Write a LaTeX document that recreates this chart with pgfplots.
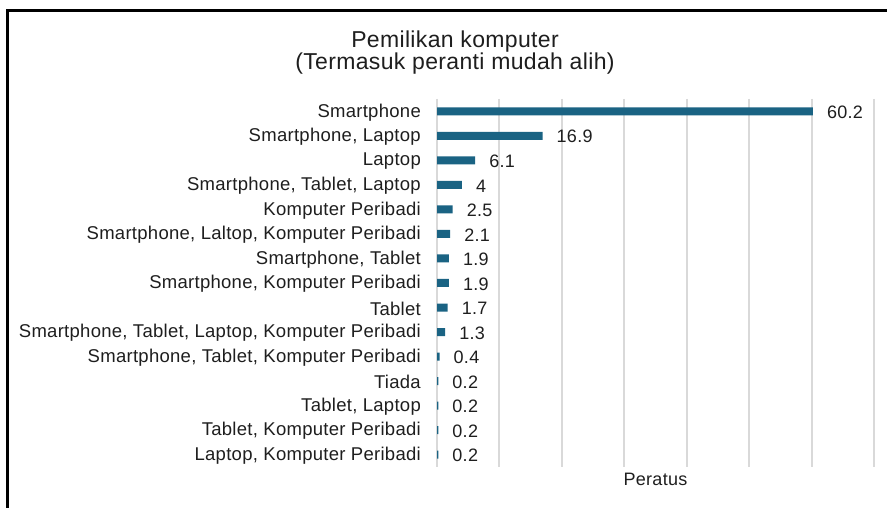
\documentclass[border=0pt]{standalone}
\usepackage{fontspec}
\setmainfont{Liberation Sans}[LetterSpace=1.5]
\usepackage{pgfplots}
\pgfplotsset{compat=1.18}
\usepackage{pgfplotstable}
\definecolor{barblue}{RGB}{26,99,131}
\definecolor{txt}{RGB}{30,30,30}
\definecolor{gridc}{RGB}{217,217,217}
\pgfplotstableread{
y x lab
0 60.2 60.2
1 16.9 16.9
2 6.1 6.1
3 4 4
4 2.5 2.5
5 2.1 2.1
6 1.9 1.9
7 1.9 1.9
8 1.7 1.7
9 1.3 1.3
10 0.4 0.4
11 0.2 0.2
12 0.2 0.2
13 0.2 0.2
14 0.2 0.2
}\datatable
\begin{document}
\begin{tikzpicture}[x=1bp,y=1bp]
\useasboundingbox (0,0) rectangle (887,508);
\begin{axis}[
  at={(437bp,41bp)}, anchor=south west,
  scale only axis, width=437bp, height=368bp,
  xmin=0, xmax=70, ymin=-0.5, ymax=14.5, y dir=reverse,
  xtick={0,10,...,70}, xticklabels={},
  xmajorgrids, grid style={gridc, line width=2bp},
  ytick={0,...,14},
  yticklabels={Smartphone, {Smartphone, Laptop}, Laptop, {Smartphone, Tablet, Laptop}, Komputer Peribadi, {Smartphone, Laltop, Komputer Peribadi}, {Smartphone, Tablet}, {Smartphone, Komputer Peribadi}, Tablet, {Smartphone, Tablet, Laptop, Komputer Peribadi}, {Smartphone, Tablet, Komputer Peribadi}, Tiada, {Tablet, Laptop}, {Tablet, Komputer Peribadi}, {Laptop, Komputer Peribadi}},
  axis line style={draw=none}, major tick length=0pt,
  yticklabel style={font=\fontsize{18.5bp}{22bp}\selectfont, text=txt, inner sep=0pt, xshift=-16bp, yshift=-1bp},
  xbar, bar width=8bp,
  nodes near coords, point meta=explicit symbolic,
  nodes near coords style={anchor=west, font=\fontsize{18bp}{22bp}\selectfont, text=txt, inner sep=0pt, xshift=14bp, yshift=-1bp},
  xlabel={Peratus},
  xlabel style={at={(axis description cs:0.5,0)}, anchor=north, inner sep=0pt, yshift=-6bp, font=\fontsize{18bp}{22bp}\selectfont, text=txt},
]
\addplot[fill=barblue, draw=none] table[x=x, y=y, meta=lab]{\datatable};
\end{axis}
\node[anchor=base, inner sep=0pt, text=txt, font=\fontsize{23bp}{26bp}\selectfont] at (455,460) {Pemilikan komputer};
\node[anchor=base, inner sep=0pt, text=txt, font=\fontsize{23bp}{26bp}\selectfont] at (455,438) {(Termasuk peranti mudah alih)};
\draw[line width=3bp, black] (7,-5) -- (7,497) -- (895,497);
\end{tikzpicture}
\end{document}
